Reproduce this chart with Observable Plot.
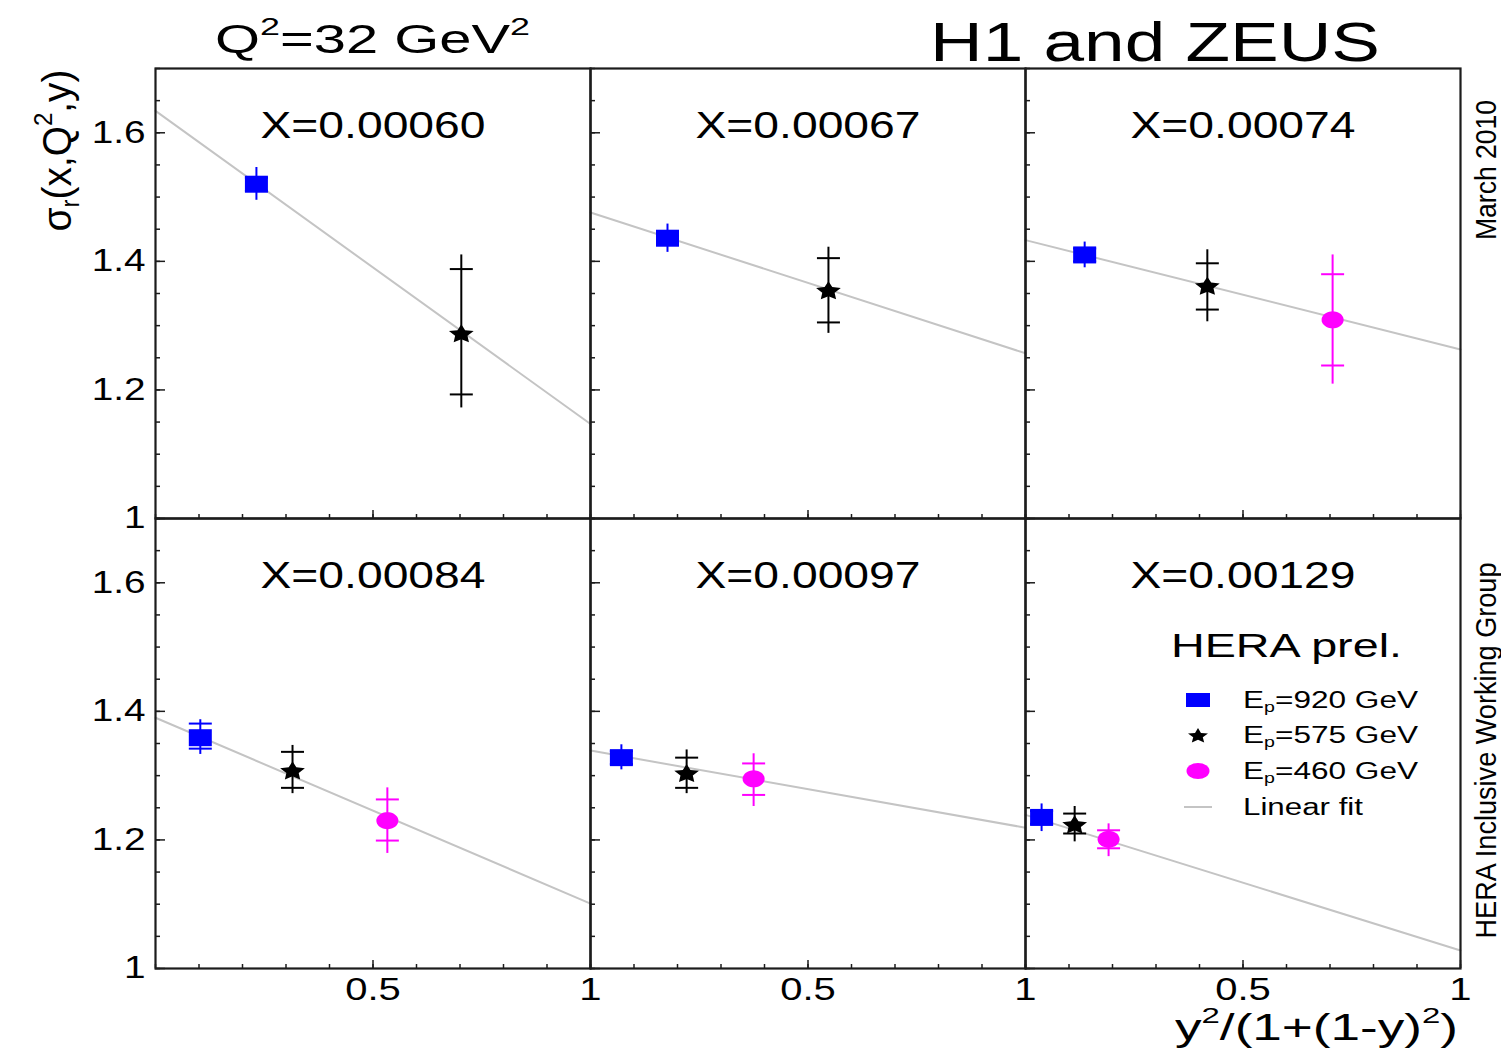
<!DOCTYPE html>
<html><head><meta charset="utf-8">
<script src="https://cdn.jsdelivr.net/npm/d3@7"></script>
<script src="https://cdn.jsdelivr.net/npm/@observablehq/plot@0.6"></script>
<style>
body{margin:0;background:#fff;}
#wrap{position:relative;width:1501px;height:1052px;font-family:"Liberation Sans",Arial,Helvetica,sans-serif;color:#000;overflow:hidden;}
#wrap svg.plot{position:absolute;left:0;top:0;}
.t{position:absolute;white-space:nowrap;line-height:1;}
.t sup{font-size:0.62em;vertical-align:0;position:relative;top:-0.72em;line-height:0;}
.t sub{font-size:0.62em;vertical-align:0;position:relative;top:0.3em;line-height:0;}
</style></head><body><div id="wrap"></div>
<script>
// ---- panel definitions ----
const panelLabels = ["X=0.00060","X=0.00067","X=0.00074","X=0.00084","X=0.00097","X=0.00129"];
const panelCol = [0,1,2,0,1,2];
const panelRow = [0,0,0,1,1,1];
// linear fit: value at x=0 and at x=1
const fitAt0 = [1.634,1.476,1.433,1.390,1.339,1.239];
const fitAt1 = [1.147,1.257,1.263,1.101,1.219,1.028];
// Ep = 920 GeV
const ep920X      = [0.232,0.177,0.136,0.103,0.071,0.037];
const ep920Val    = [1.520,1.436,1.410,1.359,1.328,1.235];
const ep920TotHi  = [1.546,1.458,1.430,1.387,1.348,1.256];
const ep920TotLo  = [1.495,1.414,1.390,1.333,1.309,1.213];
const ep920StatHi = [1.530,1.446,1.420,1.381,1.338,1.245];
const ep920StatLo = [1.510,1.426,1.400,1.342,1.318,1.225];
// Ep = 575 GeV
const ep575X      = [0.703,0.547,0.418,0.315,0.221,0.113];
const ep575Val    = [1.289,1.356,1.363,1.309,1.305,1.225];
const ep575TotHi  = [1.410,1.422,1.418,1.347,1.340,1.252];
const ep575TotLo  = [1.172,1.288,1.306,1.272,1.272,1.197];
const ep575StatHi = [1.388,1.405,1.397,1.337,1.328,1.241];
const ep575StatLo = [1.193,1.305,1.325,1.281,1.281,1.210];
// Ep = 460 GeV
const ep460X      = [null,null,0.706,0.533,0.375,0.191];
const ep460Val    = [null,null,1.309,1.230,1.295,1.201];
const ep460TotHi  = [null,null,1.410,1.281,1.334,1.225];
const ep460TotLo  = [null,null,1.209,1.179,1.252,1.174];
const ep460StatHi = [null,null,1.380,1.263,1.319,1.215];
const ep460StatLo = [null,null,1.238,1.199,1.270,1.187];
// axes
const yMajorTicks = [1,1.2,1.4,1.6];
const yMinorTicks = [1,1.05,1.1,1.15,1.2,1.25,1.3,1.35,1.4,1.45,1.5,1.55,1.6,1.65,1.7];
const xMinorTicks = [0,0.1,0.2,0.3,0.4,0.5,0.6,0.7,0.8,0.9,1];
const xMajorTicks = [0.5,1];

// ---- custom symbols ----
const sqSym = {draw(c){c.moveTo(-11.5,-8.5);c.lineTo(11.5,-8.5);c.lineTo(11.5,8.5);c.lineTo(-11.5,8.5);c.closePath();}};
const ellSym = {draw(c){for(let i=0;i<40;i++){const a=i/40*2*Math.PI;const px=11*Math.cos(a),py=8.5*Math.sin(a);i?c.lineTo(px,py):c.moveTo(px,py);}c.closePath();}};
const starSym = {draw(c){for(let i=0;i<10;i++){const a=-Math.PI/2+i*Math.PI/5;const r=i%2?0.5:1;const px=13*r*Math.cos(a),py=10*r*Math.sin(a)+1.5;i?c.lineTo(px,py):c.moveTo(px,py);}c.closePath();}};
const hSym = {draw(c){c.moveTo(-11.5,0);c.lineTo(11.5,0);}};

// ---- build tables ----
const series = [
  {name:"920", color:"#0000ff", sym:sqSym, X:ep920X, V:ep920Val, TH:ep920TotHi, TL:ep920TotLo, SH:ep920StatHi, SL:ep920StatLo},
  {name:"575", color:"#000000", sym:starSym, X:ep575X, V:ep575Val, TH:ep575TotHi, TL:ep575TotLo, SH:ep575StatHi, SL:ep575StatLo},
  {name:"460", color:"#ff00ff", sym:ellSym, X:ep460X, V:ep460Val, TH:ep460TotHi, TL:ep460TotLo, SH:ep460StatHi, SL:ep460StatLo}
];
const pts = [];
series.forEach(s => s.X.forEach((x,i) => {
  if (x == null) return;
  pts.push({series:s.name, color:s.color, col:panelCol[i], row:panelRow[i], x, v:s.V[i], th:s.TH[i], tl:s.TL[i], sh:s.SH[i], sl:s.SL[i]});
}));
const statPts = pts.flatMap(d => [{...d, y:d.sh}, {...d, y:d.sl}]);
const fitRows = panelLabels.flatMap((p,i) => [
  {panel:i, col:panelCol[i], row:panelRow[i], x:0, y:fitAt0[i]},
  {panel:i, col:panelCol[i], row:panelRow[i], x:1, y:fitAt1[i]}
]);
const labelRows = panelLabels.map((t,i) => ({text:t, col:panelCol[i], row:panelRow[i]}));

const axisColor = "#1c1c1c";
const plot = Plot.plot({
  width:1501, height:1052,
  marginLeft:155, marginRight:41, marginTop:68, marginBottom:84,
  x:{domain:[0,1]},
  y:{domain:[1,1.7]},
  fx:{domain:[0,1,2], padding:0, axis:null},
  fy:{domain:[0,1], padding:0, axis:null},
  color:{type:"identity"},
  style:{fontFamily:'"Liberation Sans", Arial, sans-serif', background:"white", overflow:"visible"},
  marks:[
    Plot.line(fitRows, {x:"x", y:"y", z:"panel", fx:"col", fy:"row", stroke:"#c4c4c4", strokeWidth:2}),
    Plot.ruleX(pts, {x:"x", y1:"tl", y2:"th", fx:"col", fy:"row", stroke:"color", strokeWidth:2}),
    Plot.dot(statPts, {x:"x", y:"y", fx:"col", fy:"row", symbol:hSym, stroke:"color", strokeWidth:2, fill:"none", r:3}),
    ...series.map(s => Plot.dot(pts.filter(d => d.series === s.name), {x:"x", y:"v", fx:"col", fy:"row", symbol:s.sym, fill:s.color, stroke:"none", r:3})),
    Plot.text(labelRows, {text:"text", fx:"col", fy:"row", frameAnchor:"top", dy:58, lineAnchor:"middle", fontSize:37}),
    Plot.axisY({ticks:yMinorTicks, tickSize:-5, fill:"none", stroke:axisColor, strokeWidth:1.5, facetAnchor:null, label:null}),
    Plot.axisY({ticks:yMajorTicks, tickSize:-10, fill:"none", stroke:axisColor, strokeWidth:1.5, facetAnchor:null, label:null}),
    Plot.axisY({ticks:yMajorTicks, tickSize:0, tickPadding:10, fontSize:31, facetAnchor:"left", label:null, tickFormat:d => d === 1 ? "1" : d.toFixed(1)}),
    Plot.axisX({ticks:xMinorTicks, tickSize:-4, fill:"none", stroke:axisColor, strokeWidth:1.5, facetAnchor:null, label:null}),
    Plot.axisX({ticks:xMajorTicks, tickSize:-8, fill:"none", stroke:axisColor, strokeWidth:1.5, facetAnchor:null, label:null}),
    Plot.axisX({ticks:xMajorTicks, tickSize:0, tickPadding:9, fontSize:32, facetAnchor:"bottom", label:null, tickFormat:d => d === 1 ? "1" : "0.5"}),
    Plot.frame({stroke:axisColor, strokeWidth:2.2})
  ]
});
plot.classList.add("plot");
d3.select(plot).selectAll("text").each(function(){
  const t = this.getAttribute("transform") || "";
  this.setAttribute("transform", t + " scale(1.25,1)");
});
const wrap = document.getElementById("wrap");
wrap.appendChild(plot);

// ---- text overlays ----
function placeH(html, {x, anchor="middle", baseline, fs, width}) {
  const el = document.createElement("div");
  el.className = "t"; el.style.fontSize = fs + "px"; el.innerHTML = html;
  wrap.appendChild(el);
  const w = el.getBoundingClientRect().width;
  const k = width / w;
  const left = anchor === "start" ? x : anchor === "end" ? x - width : x - width/2;
  el.style.left = left + "px";
  el.style.top = (baseline - 0.8465*fs) + "px";
  el.style.transformOrigin = "0 0";
  el.style.transform = `scaleX(${k})`;
  return el;
}
function placeV(html, {cx, cy, fs, length, thick=1}) {
  const el = document.createElement("div");
  el.className = "t"; el.style.fontSize = fs + "px"; el.innerHTML = html;
  wrap.appendChild(el);
  const r = el.getBoundingClientRect();
  const k = length / r.width;
  el.style.left = (cx - r.width/2) + "px";
  el.style.top = (cy - r.height/2) + "px";
  el.style.transform = `rotate(-90deg) scale(${k},${thick})`;
  return el;
}
placeH("Q<sup>2</sup>=32 GeV<sup>2</sup>", {x:372, baseline:53, fs:40, width:315});
placeH("H1 and ZEUS", {x:930, anchor:"start", baseline:62, fs:55, width:450});
placeH("HERA prel.", {x:1171, anchor:"start", baseline:657, fs:33, width:231});
placeH("y<sup>2</sup>/(1+(1-y)<sup>2</sup>)", {x:1458, anchor:"end", baseline:1040, fs:37, width:283});
placeV("σ<sub>r</sub>(x,Q<sup>2</sup>,y)", {cx:57, cy:150, fs:37, length:162, thick:1.1});
placeV("March 2010", {cx:1486, cy:170, fs:26, length:140, thick:1.1});
placeV("HERA Inclusive Working Group", {cx:1486, cy:750, fs:27, length:376, thick:1.1});

// ---- legend ----
const legendItems = [
  {html:"E<sub>p</sub>=920 GeV", kind:"sq", color:"#0000ff", cy:700, width:175},
  {html:"E<sub>p</sub>=575 GeV", kind:"star", color:"#000000", cy:735, width:175},
  {html:"E<sub>p</sub>=460 GeV", kind:"ell", color:"#ff00ff", cy:771, width:175},
  {html:"Linear fit", kind:"line", color:"#c4c4c4", cy:807, width:120}
];
legendItems.forEach(it => {
  placeH(it.html, {x:1243, anchor:"start", baseline:it.cy + 8, fs:23, width:it.width});
  const s = d3.select(wrap).append("svg").attr("width", 40).attr("height", 24)
    .style("position","absolute").style("left", (1198-20)+"px").style("top", (it.cy-12)+"px");
  const g = s.append("g").attr("transform","translate(20,12)");
  if (it.kind === "sq") g.append("rect").attr("x",-12).attr("y",-7).attr("width",24).attr("height",14).attr("fill",it.color);
  if (it.kind === "ell") g.append("ellipse").attr("rx",11.5).attr("ry",8).attr("fill",it.color);
  if (it.kind === "line") g.append("line").attr("x1",-14).attr("x2",14).attr("stroke",it.color).attr("stroke-width",2);
  if (it.kind === "star") {
    const p = d3.range(10).map(i => {const a=-Math.PI/2+i*Math.PI/5, r=i%2?0.48:1; return [10.5*r*Math.cos(a), 8*r*Math.sin(a)+1];});
    g.append("polygon").attr("points", p.map(q => q.join(",")).join(" ")).attr("fill", it.color);
  }
});
</script></body></html>
